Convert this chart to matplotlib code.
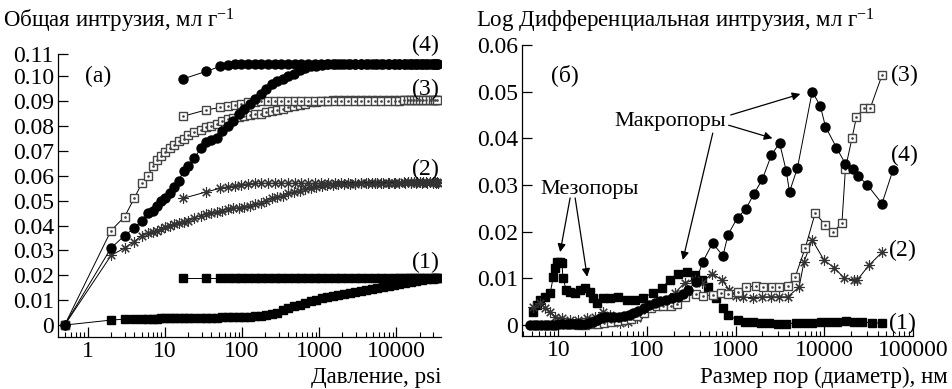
import matplotlib
matplotlib.use('Agg')
import matplotlib.pyplot as plt
from matplotlib.ticker import LogLocator, FixedLocator, FixedFormatter, NullFormatter

plt.rcParams['font.family'] = ['Liberation Serif', 'DejaVu Serif']
plt.rcParams['mathtext.fontset'] = 'custom'
plt.rcParams['mathtext.rm'] = 'Liberation Serif'
plt.rcParams['mathtext.it'] = 'Liberation Serif:italic'
plt.rcParams['font.size'] = 16

# ---- (a) total intrusion vs pressure, psi ----
pressure_int = [0.5, 2, 3, 4, 5, 6, 7, 8, 9, 10,
                11.5, 13, 15, 17.5, 20, 24, 29, 34, 40, 47,
                55, 65, 77, 90, 106, 125, 148, 175, 206, 243,
                287, 339, 400, 472, 557, 657, 776, 916, 1080, 1280,
                1510, 1780, 2100, 2480, 2930, 3460, 4080, 4820, 5690, 6720,
                7930, 9360, 11000, 13000, 15400, 18200, 21400, 25300, 29900, 33000,
                35000]
int1 = [0, .002, .0024, .0024, .0025, .0025, .0026, .0026, .0027, .0027,
        .0028, .0028, .0028, .0029, .0029, .0029, .003, .003, .003, .003,
        .0031, .0031, .0032, .0032, .0033, .0034, .0035, .0037, .004, .0044,
        .005, .006, .0068, .0075, .0082, .0088, .0095, .0102, .0108, .0112,
        .0116, .012, .0124, .0128, .0132, .0136, .014, .0144, .0148, .0152,
        .0156, .016, .0164, .0168, .0172, .0177, .0181, .0185, .0187, .0188,
        .0188]
int2 = [0, .028, .031, .0336, .036, .037, .0375, .038, .0388, .0393,
        .040, .0405, .041, .0415, .042, .043, .044, .0447, .0452, .0455,
        .046, .0465, .047, .0472, .0476, .048, .0485, .049, .050, .051,
        .0515, .052, .053, .0535, .054, .0548, .0553, .0557, .056, .0562,
        .0564, .0566, .0567, .0568, .0569, .057, .057, .057, .057, .057,
        .057, .057, .057, .057, .057, .057, .057, .057, .057, .057,
        .057]
int3 = [0, .038, .0436, .051, .057, .060, .064, .0665, .068, .0695,
        .071, .0725, .074, .075, .0765, .0775, .0785, .0795, .0802, .081,
        .082, .083, .0833, .0837, .0841, .0845, .0848, .085, .0855, .086,
        .0865, .087, .0875, .088, .0885, .089, .0895, .0898, .090, .0902,
        .0905, .0905, .0905, .0905, .0905, .0905, .0905, .0905, .0905, .0905,
        .0905, .0905, .0905, .0905, .0905, .0905, .0905, .0905, .0905, .0905,
        .0905]
int4 = [0, .031, .036, .039, .042, .045, .046, .048, .050, .051,
        .053, .0556, .058, .062, .064, .067, .071, .0735, .0745, .0752,
        .078, .080, .082, .085, .087, .089, .091, .093, .095, .097,
        .098, .099, .100, .101, .1025, .1035, .104, .1043, .1046, .1048,
        .105, .105, .105, .105, .105, .105, .105, .105, .105, .105,
        .105, .105, .105, .105, .105, .105, .105, .105, .105, .105,
        .105]

pressure_ext = [17.3, 34, 52, 66, 80, 98, 120, 146, 178, 217,
                265, 323, 394, 481, 587, 716, 873, 1065, 1300, 1585,
                1934, 2360, 2880, 3510, 4280, 5220, 6370, 7770, 9480, 11000,
                12500, 14000, 15500, 17000, 18700, 20500, 22500, 24600, 27000, 29500,
                32000, 34000]
ext1 = [.0188, .0188, .0188, .0188, .0188, .0188, .0188, .0188, .0188, .0188,
        .0188, .0188, .0188, .0188, .0188, .0188, .0188, .0188, .0188, .0188,
        .0188, .0188, .0188, .0188, .0188, .0188, .0188, .0188, .0188, .0188,
        .0188, .0188, .0188, .0188, .0188, .0188, .0188, .0188, .0188, .0188,
        .0188, .0188]
ext2 = [.051, .0535, .055, .0557, .056, .0565, .0568, .057, .057, .057,
        .057, .057, .057, .057, .057, .057, .057, .057, .057, .057,
        .0572, .0572, .0572, .0572, .0572, .0572, .0572, .0572, .0572, .0572,
        .0575, .0575, .0575, .0575, .0575, .0575, .0575, .0575, .0575, .0575,
        .0575, .0575]
ext3 = [.084, .0865, .0875, .088, .0885, .089, .0895, .0898, .090, .090,
        .0902, .0902, .0902, .0902, .0902, .0902, .0902, .0902, .0902, .0902,
        .0903, .0903, .0903, .0903, .0903, .0903, .0903, .0903, .0903, .0903,
        .0905, .0905, .0905, .0905, .0905, .0905, .0905, .0905, .0905, .0905,
        .0905, .0905]
ext4 = [.099, .102, .104, .1045, .105, .105, .105, .105, .105, .105,
        .105, .105, .105, .105, .105, .105, .105, .105, .105, .105,
        .105, .105, .105, .105, .105, .105, .105, .105, .105, .105,
        .105, .105, .105, .105, .105, .105, .105, .105, .105, .105,
        .105, .105]

# ---- (б) log differential intrusion vs pore diameter, nm ----
d1 = [5.2, 5.8, 6.3, 7.1, 8.1, 8.8, 9.2, 9.8, 10.4, 11,
      11.3, 12.3, 13.5, 15.5, 17.7, 20, 23, 24.8, 27.5, 32,
      38.5, 47, 60, 73, 90, 116, 147, 180, 222, 280,
      345, 415, 490, 600, 720, 830, 1060, 1260, 1550, 1950,
      2400, 3000, 3700, 4800, 5900, 7300, 9200, 11400, 14000, 17700,
      21700, 26800, 34800, 45000]
v1 = [.0028, .0043, .0054, .006, .0068, .0103, .0122, .0135, .0134, .0133,
      .010, .0075, .0071, .0068, .0075, .0078, .0071, .0058, .0047, .0058,
      .0058, .006, .0054, .0054, .0058, .0068, .0079, .0096, .011, .0113,
      .0107, .0096, .0081, .0058, .0036, .002, .001, .0006, .0006, .0004,
      .0004, .0002, .0002, .0004, .0004, .0004, .0006, .0006, .0006, .0009,
      .0006, .0006, .0004, .0004]
d2 = [5.2, 6.3, 7.1, 8.1, 9.2, 11, 13.5, 16.8, 21, 26,
      32, 38.5, 50, 61, 77, 95, 117, 151, 205, 267,
      345, 415, 540, 700, 850, 1000, 1200, 1550, 2000, 2530,
      3100, 3870, 5200, 5900, 7300, 9900, 13000, 16800, 21600, 23500,
      32000, 45000]
v2 = [.0039, .0047, .0036, .0028, .0017, .0015, .0011, .0011, .0015, .0017,
      .0028, .0021, .0004, .0006, .0015, .0039, .0043, .0047, .0068, .009,
      .0096, .009, .011, .0096, .0075, .0062, .006, .0058, .006, .006,
      .006, .006, .0081, .0135, .0182, .0139, .0122, .010, .0096, .0096,
      .0128, .0156]
d3 = [17, 20, 24, 28, 33, 39, 47, 56, 66, 78,
      93, 110, 130, 150, 186, 220, 270, 355, 425, 550,
      680, 830, 1060, 1300, 1680, 2050, 2600, 3050, 3850, 4700,
      6100, 7900, 10200, 12600, 15800, 17300, 20500, 23000, 28000, 33000,
      44700]
v3 = [0, 0, .0002, .0002, .0003, .0005, .0008, .001, .0013, .0018,
      .0025, .0035, .004, .004, .004, .0045, .006, .0066, .0062, .0064,
      .0068, .0066, .007, .0081, .0083, .0081, .0081, .0081, .0083, .0103,
      .0165, .024, .0214, .0199, .0218, .0335, .040, .0445, .0465, .0465,
      .0535]
d4 = [4.8, 5.3, 5.8, 6.4, 7.0, 7.7, 8.5, 9.3, 10.2, 11.3,
      12.4, 13.6, 15, 16.5, 18.2, 20, 22, 24.5, 27, 30,
      34, 38, 43, 48, 55, 62, 70, 80, 92, 106,
      122, 140, 163, 190, 225, 255, 290, 355, 426, 550,
      720, 820, 1050, 1300, 1600, 2000, 2530, 3130, 3720, 4050,
      4970, 7300, 9000, 10300, 13700, 17300, 21000, 24000, 30500, 44700,
      59500]
v4 = [0, 0, 0, 0, 0, 0, 0, 0, .0001, .0001,
      .0002, .0002, .0002, .0002, .0002, .0002, .0003, .0006, .001, .0014,
      .0016, .0017, .0017, .0017, .0019, .0021, .0026, .003, .0036, .0042,
      .0047, .005, .0053, .0058, .006, .0065, .0075, .0092, .0135, .0175,
      .0148, .0193, .023, .0248, .028, .0312, .0364, .039, .033, .0285,
      .0336, .050, .047, .0425, .038, .0345, .0335, .032, .030, .026,
      .0332]

left_yticks = [0, .01, .02, .03, .04, .05, .06, .07, .08, .09, .10, .109]
left_ylabels = ['0', '0.01', '0.02', '0.03', '0.04', '0.05', '0.06',
                '0.07', '0.08', '0.09', '0.10', '0.11']
right_yticks = [0, .01, .02, .03, .04, .05, .06]
right_ylabels = ['0', '0.01', '0.02', '0.03', '0.04', '0.05', '0.06']

circ = dict(marker='o', ms=6.5, mfc='k', mec='k', color='k', lw=0.7)
fsq = dict(marker='s', ms=5.5, mfc='k', mec='k', color='k', lw=0.7)
osq = dict(marker='s', ms=5.8, mfc='white', mec='#444444', mew=1.0, color='k', lw=0.7)
star = dict(marker=(8, 2, 0), ms=7.5, mec='#333333', mew=0.8, color='k', lw=0.7)
dot = dict(marker='.', ms=1.8, color='#444444', ls='none')


def style(ax):
    for s in ['top', 'right']:
        ax.spines[s].set_visible(False)
    for s in ['left', 'bottom']:
        ax.spines[s].set_linewidth(0.9)
    ax.set_xscale('log')
    ax.tick_params(which='major', direction='in', length=7, width=0.9, labelsize=17, pad=3)
    ax.tick_params(which='minor', direction='in', length=3.5, width=0.8)
    ax.xaxis.set_minor_locator(LogLocator(base=10, subs=range(2, 10), numticks=30))
    ax.xaxis.set_minor_formatter(NullFormatter())


fig = plt.figure(figsize=(9.52, 3.89), dpi=100)
ax1 = fig.add_axes([58 / 952, 52 / 389, 383 / 952, 283 / 389])
ax2 = fig.add_axes([522 / 952, 53 / 389, 391 / 952, 291 / 389])

# panel (a)
style(ax1)
ax1.plot(pressure_int, int1, **fsq)
ax1.plot(pressure_ext, ext1, **fsq)
ax1.plot(pressure_int, int2, **star)
ax1.plot(pressure_ext, ext2, **star)
ax1.plot(pressure_int, int3, **osq)
ax1.plot(pressure_int, int3, **dot)
ax1.plot(pressure_ext, ext3, **osq)
ax1.plot(pressure_ext, ext3, **dot)
ax1.plot(pressure_int, int4, **circ)
ax1.plot(pressure_ext, ext4, **circ)
ax1.set_xlim(0.41, 38000)
ax1.set_ylim(-0.0048, 0.109)
ax1.xaxis.set_major_locator(FixedLocator([1, 10, 100, 1000, 10000]))
ax1.xaxis.set_major_formatter(FixedFormatter(['1', '10', '100', '1000', '10000']))
ax1.yaxis.set_major_locator(FixedLocator(left_yticks))
ax1.yaxis.set_major_formatter(FixedFormatter(left_ylabels))
ax1.text(1.35, 0.100, '(а)', ha='center', va='center', fontsize=17)
for lab, y in [('4', 0.1125), ('3', 0.0948), ('2', 0.0628), ('1', 0.0252)]:
    ax1.text(24000, y, r'($\mathit{' + lab + '}$)', ha='center', va='center',
             fontsize=17, clip_on=False)

# panel (б)
style(ax2)
ax2.plot(d1, v1, **fsq)
ax2.plot(d2, v2, **star)
ax2.plot(d3, v3, **osq)
ax2.plot(d3, v3, **dot)
ax2.plot(d4, v4, **circ)
ax2.set_xlim(3.9, 100000)
ax2.set_ylim(-0.0024, 0.06)
ax2.xaxis.set_major_locator(FixedLocator([10, 100, 1000, 10000, 100000]))
ax2.xaxis.set_major_formatter(FixedFormatter(['10', '100', '1000', '10000', '100000']))
ax2.yaxis.set_major_locator(FixedLocator(right_yticks))
ax2.yaxis.set_major_formatter(FixedFormatter(right_ylabels))
ax2.text(12, 0.0535, '(б)', ha='center', va='center', fontsize=17)
for lab, x, y in [('3', 79400, 0.0535), ('4', 79400, 0.0364), ('2', 76000, 0.016), ('1', 76000, 0.0004)]:
    ax2.text(x, y, r'($\mathit{' + lab + '}$)', ha='center', va='center',
             fontsize=17, clip_on=False)

arrow = dict(arrowstyle='-|>', color='k', lw=0.9, mutation_scale=12, shrinkA=0, shrinkB=0)
ax2.text(181, 0.0435, 'Макропоры', ha='center', va='center')
ax2.annotate('', xy=(5370, 0.0495), xytext=(880, 0.045), arrowprops=arrow)
ax2.annotate('', xy=(2600, 0.040), xytext=(834, 0.0428), arrowprops=arrow)
ax2.annotate('', xy=(254, 0.0139), xytext=(552, 0.0411), arrowprops=arrow)
ax2.text(22.3, 0.0291, 'Мезопоры', ha='center', va='center')
ax2.annotate('', xy=(10.5, 0.0156), xytext=(13.6, 0.0272), arrowprops=arrow)
ax2.annotate('', xy=(21.2, 0.0103), xytext=(15.5, 0.0272), arrowprops=arrow)

# axis titles
fig.text(3 / 952, 1 - 21 / 389, 'Общая интрузия, мл г$^{-1}$', ha='left', va='center', fontsize=16.5)
fig.text(476 / 952, 1 - 21 / 389, 'Log Дифференциальная интрузия, мл г$^{-1}$', ha='left', va='center', fontsize=16.5)
fig.text(441 / 952, 1 - 377 / 389, 'Давление, psi', ha='right', va='center', fontsize=16.5)
fig.text(948 / 952, 1 - 377 / 389, 'Размер пор (диаметр), нм', ha='right', va='center', fontsize=16.5)

fig.savefig('out.png', dpi=100)
